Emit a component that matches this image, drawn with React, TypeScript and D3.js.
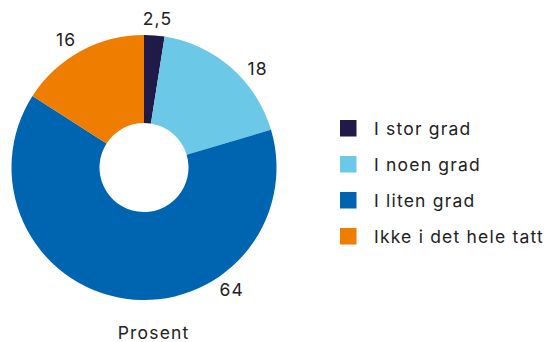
import React from "react";
import * as d3 from "d3";

const categories = ["I stor grad", "I noen grad", "I liten grad", "Ikke i det hele tatt"];
const values = [2.5, 18, 64, 16];
const valueLabels = ["2,5", "18", "64", "16"];
const colors = ["#1f1a48", "#6cc8e7", "#0065b0", "#ef7d00"];
const labelFractions = [0.55, 0.62, 0.31, 0.45];
const unitLabel = "Prosent";

const W = 547;
const H = 342;
const cx = 144;
const cy = 167.5;
const outerR = 132.5;
const innerR = 44.5;
const labelR = 150;
const font = "Inter, 'Noto Sans', sans-serif";
const fs = 17.5;
const ls = 1.2;

export default function App() {
  const pie = d3.pie<number>().sort(null).value((d) => d);
  const arcs = pie(values);
  const arcGen = d3.arc<d3.PieArcDatum<number>>().innerRadius(innerR).outerRadius(outerR);
  const legendY = d3.scaleBand<string>().domain(categories).range([110, 254]).padding(0);

  return (
    <svg
      width={W}
      height={H}
      style={{ position: "absolute", left: 0, top: 0, background: "#fff" }}
      fontFamily={font}
      letterSpacing={ls}
    >
      <g transform={`translate(${cx},${cy})`}>
        {arcs.map((a, i) => (
          <path key={i} d={arcGen(a) || ""} fill={colors[i]} />
        ))}
        {arcs.map((a, i) => {
          const ang = a.startAngle + (a.endAngle - a.startAngle) * labelFractions[i];
          const x = Math.sin(ang) * labelR;
          const y = -Math.cos(ang) * labelR;
          return (
            <text
              key={i}
              x={x + ls / 2}
              y={y}
              textAnchor="middle"
              dominantBaseline="central"
              fontSize={fs}
              fill="#222"
            >
              {valueLabels[i]}
            </text>
          );
        })}
      </g>
      <text x={153 + ls / 2} y={339} textAnchor="middle" fontSize={fs} fill="#222">
        {unitLabel}
      </text>
      {categories.map((c, i) => {
        const y = (legendY(c) || 0) + legendY.bandwidth() / 2;
        return (
          <g key={c}>
            <rect x={340} y={y - 8} width={16.5} height={16.5} fill={colors[i]} />
            <text x={374} y={y} dominantBaseline="central" fontSize={fs} fill="#222">
              {c}
            </text>
          </g>
        );
      })}
    </svg>
  );
}
